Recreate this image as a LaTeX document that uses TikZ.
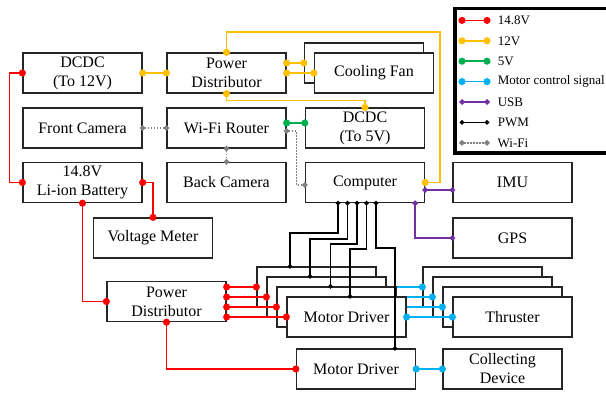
\documentclass[tikz,border=0pt]{standalone}
\usepackage{fontspec}
\setmainfont{Liberation Serif}
\usetikzlibrary{arrows.meta}
\definecolor{wred}{RGB}{255,0,0}
\definecolor{wyellow}{RGB}{255,192,0}
\definecolor{wgreen}{RGB}{0,176,80}
\definecolor{wblue}{RGB}{0,176,240}
\definecolor{wpurple}{RGB}{112,48,160}
\definecolor{wgray}{RGB}{128,128,128}
\begin{document}
\begin{tikzpicture}[x=1pt,y=-1pt,
box/.style={draw=black!85,line width=1.3pt,fill=white,minimum width=119pt,minimum height=40pt,
  align=center,inner sep=1pt,font=\fontsize{16}{19}\selectfont},
wire/.style={line width=1.6pt},
bigdot/.style={wire,{Circle[length=7pt]}-{Circle[length=7pt]},shorten <=-3.5pt,shorten >=-3.5pt},
smalldot/.style={wire,{Circle[length=4.5pt]}-{Circle[length=4.5pt]},shorten <=-2.25pt,shorten >=-2.25pt},
diadot/.style={wire,{Turned Square[length=6pt]}-{Turned Square[length=6pt]},shorten <=-3pt,shorten >=-3pt},
p148/.style={bigdot,draw=wred},
p12/.style={bigdot,draw=wyellow},
p5/.style={bigdot,draw=wgreen},
mctl/.style={bigdot,draw=wblue},
usb/.style={diadot,draw=wpurple},
pwm/.style={smalldot,draw=black},
wlink/.style={diadot,draw=wgray,line width=1.4pt,dash pattern=on 1.5pt off 1.5pt}]
\useasboundingbox (0,0) rectangle (606,394);

\node[box] (dcdc12) at (82.5,73) {DCDC\\(To 12V)};
\node[box] (pdtop) at (226.5,73) {Power\\Distributor};
\node[box] (fcam) at (82.5,128) {Front Camera};
\node[box] (router) at (226.5,128) {Wi-Fi Router};
\node[box] (batt) at (82.5,182.5) {14.8V\\Li-ion Battery};
\node[box] (bcam) at (226.5,182.5) {Back Camera};
\node[box] (fanback) at (364,63) {};
\node[box] (fan) at (374,73) {Cooling Fan};
\node[box] (dcdc5) at (365,128) {DCDC\\(To 5V)};
\node[box] (comp) at (365,182.5) {Computer};
\node[box] (imu) at (512.5,182.5) {IMU};
\node[box] (gps) at (512.5,238) {GPS};
\node[box] (vmeter) at (153,238) {Voltage Meter};
\node[box] (pdbot) at (166.5,301.5) {Power\\Distributor};
\node[box] (md5) at (356,369) {Motor Driver};
\node[box] (coll) at (502.5,369) {Collecting\\Device};

% 14.8V
\draw[p148] (dcdc12.west) -- ++(-13,0) |- (batt.west);
\draw[p148] (batt.east) -| (vmeter.north);
\draw[p148] (batt.south) |- (pdbot.west);
\draw[p148] (pdbot.south) |- (md5.west);
% 12V
\coordinate (ytop) at (440,32);
\draw[p12] (dcdc12.east) -- (pdtop.west);
\draw[p12] (pdtop.north) |- (ytop) |- (comp.east);
\draw[p12] (pdtop.east |- fanback.west) -- (fanback.west);
\draw[p12] (pdtop.east) -- (fan.west);
\draw[p12] (pdtop.south) -- ++(0,7) -| (dcdc5.north);
% 5V and Wi-Fi
\draw[p5] ([yshift=5pt]router.east) -- ([yshift=5pt]dcdc5.west);
\draw[wlink] (fcam.east) -- (router.west);
\draw[wlink] (router.south) -- (bcam.north);
\draw[wlink] ([yshift=-3pt]router.east) -- ++(10,0) |- ([yshift=-2.5pt]comp.west);
% USB
\draw[usb] ([yshift=-7.5pt]comp.east) -- ([yshift=-7.5pt]comp.east -| imu.west);
\draw[usb] ([xshift=-10pt]comp.south east) |- (gps.west);
\draw[mctl] (md5.east) -- (coll.west);

% motor driver and thruster stacks
\foreach \k/\dx/\dy/\mx in {1/-27/30/-26.5,2/-17.5/36/-16.5,3/-8/41/-6,4/1.5/46/3.5}{
  \node[box] (md\k) at ({306.5+10*\k},{277+10*\k}) {\ifnum\k=4 Motor Driver\fi};
  \node[box] (th\k) at ({472.5+10*\k},{277+10*\k}) {\ifnum\k=4 Thruster\fi};
  \draw[p148] (pdbot.east |- md\k.west) -- (md\k.west);
  \draw[mctl] (md\k.east) -- (th\k.west);
  \draw[pwm] ([xshift=\dx pt]comp.south) -- ++(0,\dy) -| ([xshift=\mx pt]md\k.north);
}
\draw[pwm] ([xshift=11pt]comp.south) -- ++(0,45) -| ([xshift=39pt]md5.north);

% legend
\draw[line width=3.5pt] (455,8.5) rectangle (614,153);
\foreach \st/\txt [count=\i] in {p148/14.8V,p12/12V,p5/5V,mctl/Motor control signal,usb/USB,pwm/PWM,wlink/Wi-Fi}
  \draw[\st] (462,{20.4*\i}) -- (487,{20.4*\i})
    node[anchor=west,xshift=10pt,inner sep=0pt,black,font=\fontsize{13}{15}\selectfont] {\txt};
\end{tikzpicture}
\end{document}
